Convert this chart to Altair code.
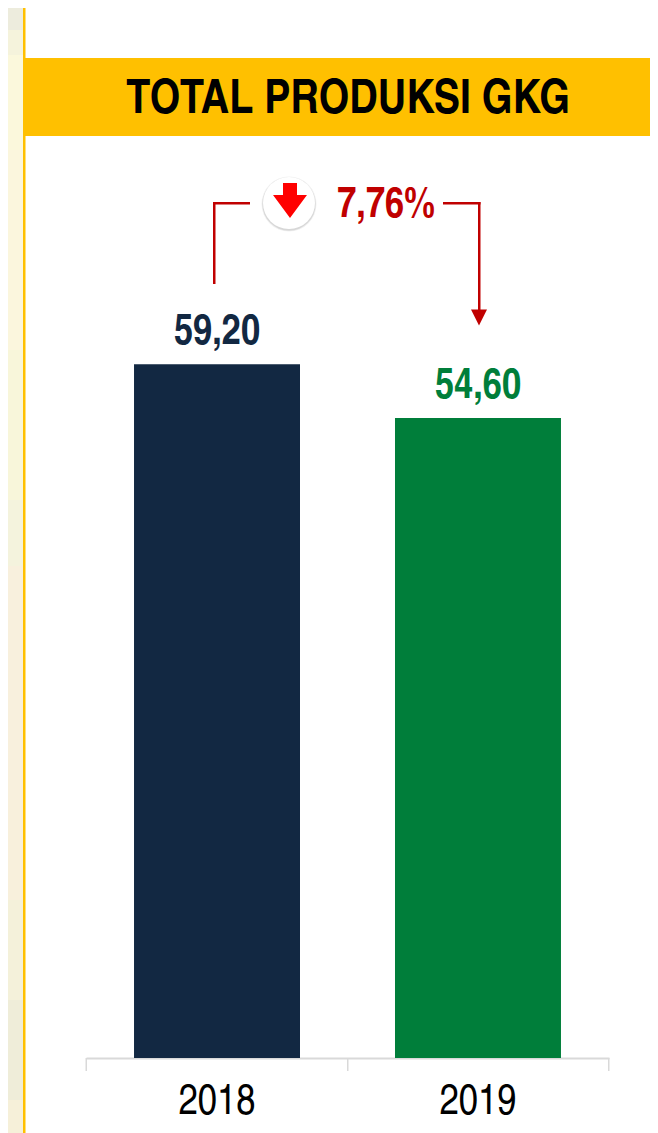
import altair as alt
import pandas as pd

years = ["2018", "2019"]
values = [59.20, 54.60]
labels = ["59,20", "54,60"]
colors = ["#122842", "#007E3A"]
title_text = "TOTAL PRODUKSI GKG"
change_text = "7,76%"
FONT = "TeX Gyre Heros Cn"

# left photo strip: (top, bottom, colour), page pixels
strip_tops = [8, 30, 55, 150, 350, 500, 566, 800, 900, 1000, 1100]
strip_bottoms = [30, 55, 150, 350, 500, 566, 800, 900, 1000, 1100, 1133]
strip_colors = ["#EDECDD", "#F5F3DC", "#FBF8DC", "#FBF6DD", "#F8F6DA", "#F4F3DD",
                "#F8F0DD", "#F8F0DC", "#F4F1DA", "#EFEDD9", "#F6F0D9"]

# page px -> plot coordinates (plot origin at page 86,8)
def X(px): return px - 86
def Y(py): return py - 8

PLOT_W, PLOT_H = 523, 1050
df = pd.DataFrame({"year": years, "value": values, "label": labels, "color": colors})

x = alt.X("year:N", title=None,
          scale=alt.Scale(domain=years, paddingInner=0.364, paddingOuter=0.184),
          axis=alt.Axis(labelFont=FONT, labelFontSize=42, labelColor="#000000", labelAngle=0,
                        labelPadding=22, domainColor="#D9D9D9", domainWidth=2, ticks=False, grid=False))
y = alt.Y("value:Q", title=None, axis=None,
          scale=alt.Scale(domain=[0, PLOT_H / 11.72], range=[PLOT_H, 0], nice=False, zero=True))

def rect(x1, x2, y1, y2, color, opacity=1.0):
    return alt.Chart(pd.DataFrame({"a": [0]})).mark_rect(color=color, opacity=opacity).encode(
        x=alt.value(X(x1)), x2=alt.value(X(x2)), y=alt.value(Y(y1)), y2=alt.value(Y(y2)))

def txt(s, px, py, color, size=42, bold=True):
    return alt.Chart(pd.DataFrame({"t": [s]})).mark_text(
        font=FONT, fontSize=size, fontWeight="bold" if bold else "normal",
        color=color, align="center", baseline="alphabetic").encode(
        x=alt.value(X(px)), y=alt.value(Y(py)), text="t:N")

def sym(shape, px, py, size, color, opacity=1.0):
    return alt.Chart(pd.DataFrame({"a": [0]})).mark_point(
        shape=shape, size=size, filled=True, color=color, opacity=opacity, strokeWidth=0).encode(
        x=alt.value(X(px)), y=alt.value(Y(py)))

RED = "#C00000"
arrow = "M-0.4,-1 L0.4,-1 L0.4,-0.32 L0.97,-0.32 L0,1 L-0.97,-0.32 L-0.4,-0.32 Z"
tri = "M-1,-1 L1,-1 L0,1 Z"

strip = [rect(8, 23, t, b, c) for t, b, c in zip(strip_tops, strip_bottoms, strip_colors)]

layers = strip + [
    rect(23, 25.5, 8, 1133, "#FFC000"),
    rect(23, 658, 58, 136, "#FFC000"),
    txt(title_text, 348, 113, "#000000", size=48),
    # axis ticks at the category boundaries
    rect(85.5, 87, 1058, 1071, "#D9D9D9"),
    rect(347, 348.5, 1058, 1071, "#D9D9D9"),
    rect(608, 609.5, 1058, 1071, "#D9D9D9"),
    # connector
    rect(213, 215.5, 202, 284, RED),
    rect(213, 250, 202, 204.5, RED),
    rect(443, 480.5, 202, 204.5, RED),
    rect(478, 480.5, 202, 312, RED),
    sym(tri, 479, 317.5, 256, RED),
    sym("circle", 289, 204, 3025, "#000000", 0.06),
    sym("circle", 289, 204, 2850, "#000000", 0.10),
    sym("circle", 289, 203, 2704, "#FFFFFF"),
    sym(arrow, 290, 200.5, 1225, "#FF0000"),
    txt(change_text, 386, 217, RED),
    alt.Chart(df).mark_bar().encode(x=x, y=y, color=alt.Color("color:N", scale=None, legend=None)),
    alt.Chart(df).mark_text(font=FONT, fontSize=42, fontWeight="bold", baseline="alphabetic", dy=-20).encode(
        x=x, y=y, text="label:N", color=alt.Color("color:N", scale=None, legend=None)),
]

chart = alt.layer(*layers).properties(
    width=PLOT_W, height=PLOT_H,
    padding={"left": 78, "top": 0, "right": 41, "bottom": 75},
    autosize=alt.AutoSizeParams(type="none"),
    background="#FFFFFF",
).configure_view(stroke=None)

chart.save("out.html", embed_options={"renderer": "svg", "actions": False})
